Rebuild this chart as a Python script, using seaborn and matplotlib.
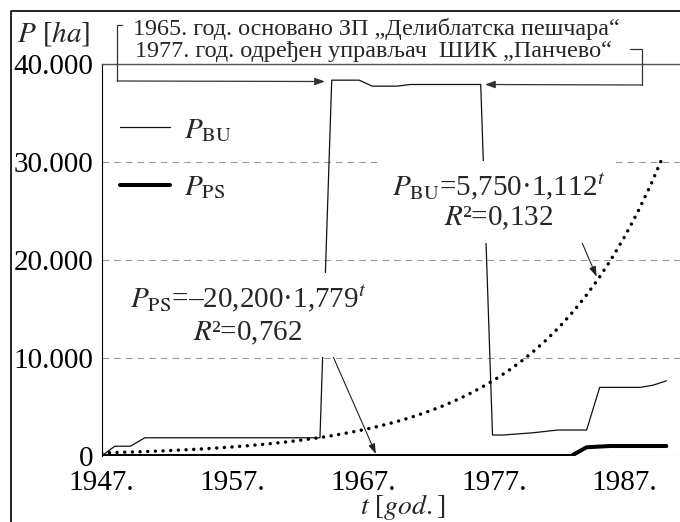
import matplotlib
matplotlib.use("Agg")
import matplotlib.pyplot as plt
import seaborn as sns
import pandas as pd
from matplotlib.lines import Line2D

# ---- data ----
bu_years = [1947.0, 1948.0, 1949.2, 1950.3, 1963.7, 1964.6, 1966.7, 1967.7, 1969.6, 1970.6,
            1976.0, 1976.9, 1977.7, 1980.0, 1981.9, 1984.1, 1985.1, 1988.2, 1989.2, 1990.2]
bu_area = [0, 1000, 1000, 1860, 1860, 38350, 38350, 37740, 37740, 37910,
           37910, 2140, 2140, 2370, 2650, 2650, 7000, 7000, 7230, 7670]
ps_years = [1947.0, 1982.9, 1984.1, 1985.9, 1990.2]
ps_area = [0, 0, 890, 1020, 1020]
trend_years = list(range(1947, 1991))
trend_bu = [320, 356, 396, 440, 489, 544, 605, 673, 748, 832, 925, 1029, 1144, 1272,
            1415, 1573, 1749, 1945, 2163, 2405, 2675, 2974, 3307, 3678, 4090, 4548,
            5057, 5623, 6253, 6954, 7733, 8599, 9562, 10633, 11824, 13148, 14621,
            16259, 18080, 20105, 22357, 24861, 27646, 30742]
xtick_years = [1947, 1952, 1957, 1962, 1967, 1972, 1977, 1982, 1987]
xtick_labels = ["1947.", "", "1957.", "", "1967.", "", "1977.", "", "1987."]
ytick_vals = [0, 10000, 20000, 30000, 40000]
ytick_labels = ["0", "10.000", "20.000", "30.000", "40.000"]
label_bu = r"$P_{\mathrm{BU}}$"
label_ps = r"$P_{\mathrm{PS}}$"
note_1965 = "1965. год. основано ЗП „Делиблатска пешчара“"
note_1977 = "1977. год. одређен управљач  ШИК „Панчево“"
fit_bu = "$P_{\\mathrm{BU}}$=5,750·1,112$^{t}$\n$R$²=0,132"
fit_ps = "$P_{\\mathrm{PS}}$=–20,200·1,779$^{t}$\n$R$²=0,762"

bu_df = pd.DataFrame({"year": bu_years, "area": bu_area})
ps_df = pd.DataFrame({"year": ps_years, "area": ps_area})
tr_df = pd.DataFrame({"year": trend_years, "area": trend_bu})

sns.set_style("white")
plt.rcParams["font.family"] = ["Liberation Serif", "DejaVu Serif"]
plt.rcParams["mathtext.fontset"] = "stix"

W, H = 680, 522
fig = plt.figure(figsize=(6.8, 5.22), dpi=100)
fig.patch.set_facecolor("white")


def fx(x):
    return x / W


def fy(y):
    return 1 - y / H


ax = fig.add_axes([fx(101.7), fy(456), fx(680) - fx(101.7), fy(64) - fy(456)])
ax.set_facecolor("none")

sns.lineplot(data=tr_df, x="year", y="area", ax=ax, color="black", linewidth=2.5,
             linestyle=(0, (0.01, 2.2)), dash_capstyle="round", estimator=None,
             legend=False, zorder=3)
sns.lineplot(data=bu_df, x="year", y="area", ax=ax, color="#111111", linewidth=0.9,
             estimator=None, sort=False, label=label_bu, zorder=4)
sns.lineplot(data=ps_df, x="year", y="area", ax=ax, color="black", linewidth=2.9,
             estimator=None, sort=False, label=label_ps, zorder=4)

ax.set_xlim(1947, 1947 + (680 - 101.7) / 13.07)
ax.set_ylim(0, 40000)
ax.set_xticks(xtick_years)
ax.set_xticklabels(xtick_labels)
ax.set_yticks(ytick_vals)
ax.set_yticklabels(ytick_labels)
ax.set_xlabel("")
ax.set_ylabel("")
ax.tick_params(axis="x", direction="inout", length=11, width=0.8, pad=4.5,
               labelsize=21, colors="black")
ax.tick_params(axis="y", direction="inout", length=6, width=0.8, pad=3,
               labelsize=21, colors="black")
ax.yaxis.grid(True, color="#999999", linestyle=(0, (6, 4.5)), linewidth=0.8)
ax.xaxis.grid(False)
ax.set_axisbelow(True)
for s in ["bottom", "right"]:
    ax.spines[s].set_visible(False)
ax.spines["top"].set_color("#555555")
ax.spines["top"].set_linewidth(1.0)
ax.spines["left"].set_color("black")
ax.spines["left"].set_linewidth(0.8)

h, l = ax.get_legend_handles_labels()
ax.legend(h, l, loc="center left", bbox_to_anchor=(fx(120), fy(159)),
          bbox_transform=fig.transFigure, frameon=False, fontsize=21,
          handlelength=1.71, handletextpad=0.5, labelspacing=1.05,
          borderpad=0, borderaxespad=0)

# axis titles
fig.text(fx(54), fy(33), "$P$ [$ha$]", ha="center", va="center", fontsize=21)
fig.text(fx(403), fy(507), "$t$ [$god.$]", ha="center", va="center", fontsize=20)

# notes on top
fig.text(fx(133), fy(29), note_1965, ha="left", va="center", fontsize=17.4)
fig.text(fx(135), fy(52), note_1977, ha="left", va="center", fontsize=17.4)

lc = "#333333"
fig.add_artist(Line2D([fx(122), fx(117.3), fx(117.3)], [fy(25), fy(25), fy(81)],
                      color=lc, lw=0.9, transform=fig.transFigure))
fig.add_artist(Line2D([fx(630), fx(642), fx(642)], [fy(49), fy(49), fy(85)],
                      color=lc, lw=0.9, transform=fig.transFigure))
arrow_kw = dict(arrowstyle="-|>,head_length=0.6,head_width=0.22", color=lc, lw=0.9,
                shrinkA=0, shrinkB=0, mutation_scale=10)
ax.annotate("", xy=(1964.08, 38214), xycoords="data",
            xytext=(fx(117.3), fy(81)), textcoords="figure fraction",
            arrowprops=arrow_kw, annotation_clip=False)
ax.annotate("", xy=(1976.33, 37908), xycoords="data",
            xytext=(fx(642), fy(85)), textcoords="figure fraction",
            arrowprops=arrow_kw, annotation_clip=False)

# fit formulas
box = dict(boxstyle="square,pad=0.35", fc="white", ec="none")
fig.text(fx(499), fy(202), fit_bu, ha="center", va="center", fontsize=21,
         multialignment="center", linespacing=1.15, bbox=box, zorder=5)
fig.text(fx(248), fy(315), fit_ps, ha="center", va="center", fontsize=21,
         multialignment="center", linespacing=1.3, bbox=box, zorder=5)
thin_kw = dict(arrowstyle="-|>,head_length=0.6,head_width=0.2", color="#222222", lw=0.8,
               shrinkA=0, shrinkB=0, mutation_scale=10)
a1 = ax.annotate("", xy=(1984.87, 18296), xycoords="data",
                 xytext=(fx(568), fy(210)), textcoords="figure fraction",
                 arrowprops=thin_kw, annotation_clip=False)
a2 = ax.annotate("", xy=(1967.98, 204), xycoords="data",
                 xytext=(fx(318.3), fy(323)), textcoords="figure fraction",
                 arrowprops=thin_kw, annotation_clip=False)
a1.set_zorder(6)
a2.set_zorder(6)

# frame lines of the figure (top and left)
fig.add_artist(Line2D([fx(11), fx(11), fx(690)], [fy(530), fy(11), fy(11)],
                      color="black", lw=1.2, transform=fig.transFigure))

fig.savefig("out.png", dpi=100)
